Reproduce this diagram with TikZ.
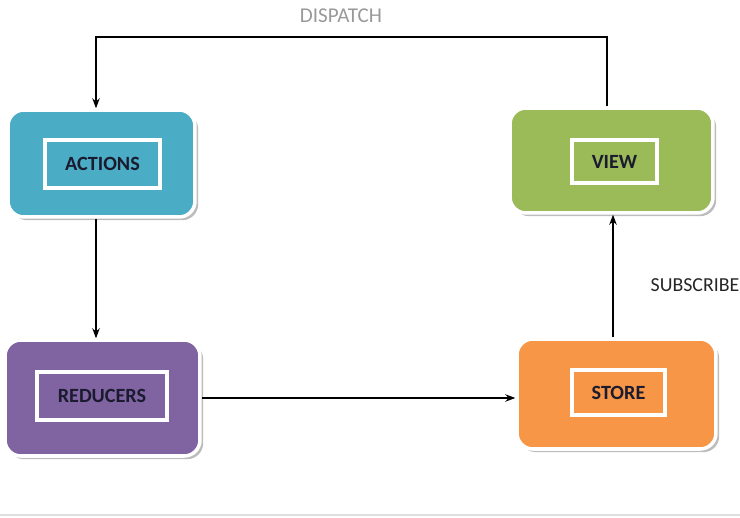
\documentclass[tikz,border=0pt]{standalone}
\usepackage{fontspec}
\setmainfont{Carlito}
\usepackage{tikz}
\usetikzlibrary{arrows.meta}
\usetikzlibrary{shadows}

\definecolor{actionblue}{HTML}{4BACC6}
\definecolor{viewgreen}{HTML}{9BBB59}
\definecolor{reducerpurple}{HTML}{8064A2}
\definecolor{storeorange}{HTML}{F79646}
\definecolor{labeltext}{HTML}{1B1B2F}

\begin{document}
\begin{tikzpicture}[x=0.02cm,y=-0.02cm]
	\useasboundingbox (0,0) rectangle (740,517);
	\draw[gray!25, line width=0.8pt] (0,515) -- (740,515);

	\begin{scope}[every node/.style={rounded corners=9pt, draw=white, line width=2pt,
	              drop shadow={shadow xshift=1.8pt, shadow yshift=-1.8pt, fill=gray!75, opacity=0.7}}]
		\node[fill=actionblue, minimum width=3.74cm, minimum height=2.14cm] (actions) at (101.5,163.5) {};
		\node[fill=viewgreen, minimum width=4.06cm, minimum height=2.1cm] (view) at (611.5,160.5) {};
		\node[fill=reducerpurple, minimum width=3.9cm, minimum height=2.32cm] (reducers) at (102.5,398) {};
		\node[fill=storeorange, minimum width=3.98cm, minimum height=2.2cm] (store) at (616.5,394) {};
	\end{scope}

	\begin{scope}[every node/.style={draw=white, line width=2.3pt, inner sep=0pt,
	              text=labeltext, font=\bfseries\fontsize{11.5}{13}\selectfont,
	              drop shadow={shadow xshift=1pt, shadow yshift=-1pt, fill=gray!60, opacity=0.5}}]
		\node[fill=actionblue, minimum width=2.3cm, minimum height=0.96cm] (actionslabel) at (102.5,164) {ACTIONS};
		\node[fill=viewgreen, minimum width=1.7cm, minimum height=0.86cm] (viewlabel) at (614.5,161.5) {VIEW};
		\node[fill=reducerpurple, minimum width=2.6cm, minimum height=0.96cm] (reducerslabel) at (102,396) {REDUCERS};
		\node[fill=storeorange, minimum width=1.86cm, minimum height=0.9cm] (storelabel) at (618.5,392.5) {STORE};
	\end{scope}

	\node[text=gray!80, font=\fontsize{12}{14}\selectfont] (dispatch) at (341,16) {DISPATCH};
	\node[text=black!85, font=\fontsize{11.3}{13}\selectfont] (subscribe) at (695,285) {SUBSCRIBE};
	\coordinate (top) at (350,37);

	\begin{scope}[>={Stealth[black]},
	              every edge/.style={draw=black, line width=0.6pt}]
		\draw[->, line width=0.6pt] ([xshift=-0.09cm]view.north) |- (top) -| ([xshift=-0.11cm]actions.north);
		\path ([xshift=-0.11cm]actions.south) edge[->] ([xshift=-0.11cm]actions.south |- reducers.north);
		\path (reducers.east) edge[->] (reducers.east -| store.west);
		\path ([xshift=-0.07cm]store.north) edge[->] ([xshift=-0.07cm]store.north |- view.south);
	\end{scope}
\end{tikzpicture}
\end{document}
